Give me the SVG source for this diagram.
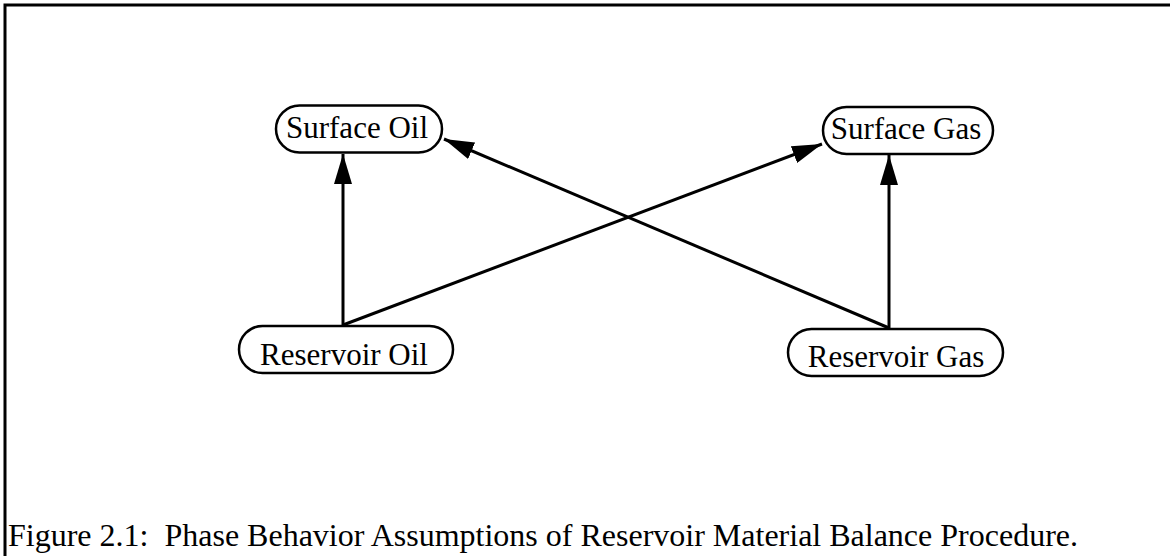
<svg xmlns="http://www.w3.org/2000/svg" width="1170" height="556" viewBox="0 0 1170 556">
  <style>
    .node rect { fill: #fff; stroke: #000; stroke-width: 2.5; }
    .node text, .caption { font-family: "Liberation Serif", "Times New Roman", serif; fill: #000; }
    .node text { font-size: 31px; text-anchor: middle; }
    .caption { font-size: 32px; }
    .edge { stroke: #000; stroke-width: 3; fill: none; marker-end: url(#arrow); }
  </style>
  <defs>
    <marker id="arrow" markerUnits="userSpaceOnUse" markerWidth="30" markerHeight="18" viewBox="0 0 30 18" refX="30" refY="9" orient="auto">
      <path d="M0,0 L30,9 L0,18 Z" fill="#000"/>
    </marker>
  </defs>
  <rect width="1170" height="556" fill="#fff"/>
  <!-- frame: top and left rules -->
  <path d="M5,556 V5 H1170" fill="none" stroke="#000" stroke-width="3"/>

  <g id="connectors">
    <path class="edge" d="M343,325 V154"/>
    <path class="edge" d="M343,325 L822,144"/>
    <path class="edge" d="M889,328 L444,139"/>
    <path class="edge" d="M889,328 V155"/>
  </g>

  <g id="surface-oil" class="node">
    <rect x="276" y="105.5" width="166" height="47" rx="23.5"/>
    <text x="357" y="138">Surface Oil</text>
  </g>
  <g id="surface-gas" class="node">
    <rect x="823" y="107" width="170" height="47" rx="23.5"/>
    <text x="906" y="139">Surface Gas</text>
  </g>
  <g id="reservoir-oil" class="node">
    <rect x="239" y="326" width="214" height="47" rx="23.5"/>
    <text x="344" y="365">Reservoir Oil</text>
  </g>
  <g id="reservoir-gas" class="node">
    <rect x="788" y="329" width="215" height="47" rx="23.5"/>
    <text x="896" y="367">Reservoir Gas</text>
  </g>

  <text class="caption" x="8" y="546" xml:space="preserve">Figure 2.1:  Phase Behavior Assumptions of Reservoir Material Balance Procedure.</text>
</svg>
